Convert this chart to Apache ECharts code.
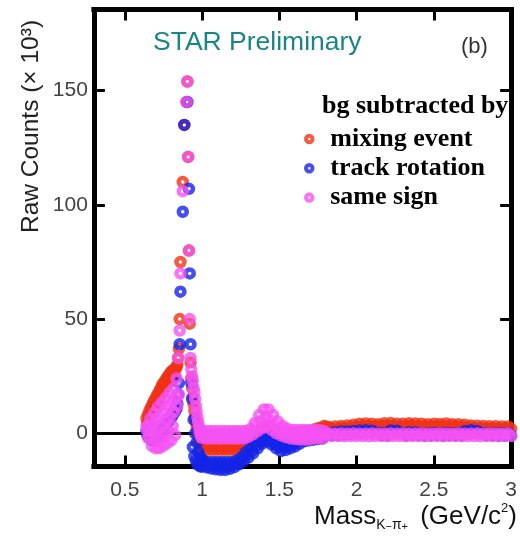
<!DOCTYPE html>
<html>
<head>
<meta charset="utf-8">
<script src="https://cdn.jsdelivr.net/npm/echarts@6/dist/echarts.min.js"></script>
<style>
  html, body { margin: 0; padding: 0; background: #fff; }
  #chart { width: 520px; height: 544px; }
</style>
</head>
<body>
<div id="chart"></div>
<script>
// K-pi invariant mass bins (GeV/c^2)
const mass = [
  // rising side below the K* peak
  0.640, 0.645, 0.650, 0.655, 0.660, 0.665, 0.670, 0.675, 0.680, 0.685,
  0.690, 0.695, 0.700, 0.705, 0.710, 0.715, 0.720, 0.725, 0.730, 0.735,
  0.740, 0.745, 0.750, 0.755, 0.760, 0.765, 0.770, 0.775, 0.780, 0.785,
  0.790, 0.795, 0.800, 0.805, 0.810, 0.815, 0.820, 0.825, 0.830,
  // peak
  0.835, 0.840, 0.845, 0.850, 0.855, 0.860, 0.875, 0.885, 0.900, 0.905,
  0.910, 0.915, 0.920, 0.925, 0.930,
  // falling side
  0.935, 0.940, 0.945, 0.950, 0.955, 0.960, 0.965, 0.970, 0.975, 0.980,
  0.985, 0.990, 0.995, 1.000,
  // 1.01 - 1.80
  1.01, 1.02, 1.03, 1.04, 1.05, 1.06, 1.07, 1.08, 1.09, 1.10,
  1.11, 1.12, 1.13, 1.14, 1.15, 1.16, 1.17, 1.18, 1.19, 1.20,
  1.21, 1.22, 1.23, 1.24, 1.25, 1.26, 1.27, 1.28, 1.29, 1.30,
  1.31, 1.32, 1.33, 1.34, 1.35, 1.36, 1.37, 1.38, 1.39, 1.40,
  1.41, 1.42, 1.43, 1.44, 1.45, 1.46, 1.47, 1.48, 1.49, 1.50,
  1.51, 1.52, 1.53, 1.54, 1.55, 1.56, 1.57, 1.58, 1.59, 1.60,
  1.61, 1.62, 1.63, 1.64, 1.65, 1.66, 1.67, 1.68, 1.69, 1.70,
  1.71, 1.72, 1.73, 1.74, 1.75, 1.76, 1.77, 1.78, 1.79, 1.80,
  // 1.82 - 3.00
  1.82, 1.84, 1.86, 1.88, 1.90, 1.92, 1.94, 1.96, 1.98, 2.00,
  2.02, 2.04, 2.06, 2.08, 2.10, 2.12, 2.14, 2.16, 2.18, 2.20,
  2.22, 2.24, 2.26, 2.28, 2.30, 2.32, 2.34, 2.36, 2.38, 2.40,
  2.42, 2.44, 2.46, 2.48, 2.50, 2.52, 2.54, 2.56, 2.58, 2.60,
  2.62, 2.64, 2.66, 2.68, 2.70, 2.72, 2.74, 2.76, 2.78, 2.80,
  2.82, 2.84, 2.86, 2.88, 2.90, 2.92, 2.94, 2.96, 2.98, 3.00
];

// Raw counts (x 10^3) after background subtraction, one entry per mass bin (null = no point)
const mixingEvent = [
  6.5, 4.4, 8.3, 6.1, 10, 7.8, 11.5, 9.3, 13, 10.6,
  14.3, 11.9, 15.5, 13.1, 16.8, 14.4, 18, 15.8, 19.5, 17.3,
  21, 18.5, 22, 19.5, 23, 20.5, 24, 21.5, 25, 22.5,
  26, 23.5, 27, 24.3, 27.5, 24.8, 28, 25.3, 28.5,
  29, 30, 33, 37, 50, 75, 110, 135, 145, 154,
  121, 80, 48, 31, 24,
  20, 16, 13, 10, 7, 5, 3, 1, -0.5, -2,
  -3, -4, -5, -6,
  -4, -5.6, -7.2, -4, -5.6, -7.2, -4, -5.6, -7.2, -4,
  -5.6, -7.2, -4, -5.6, -7.2, -4, -5.6, -7.2, -4, -5.6,
  -7.2, -4, -5.6, -7.2, -4, -5.3, -6.2, -3.5, -4.4, -5,
  -2.5, -3, -3.5, -1, -1.3, -1.5, 1.2, 1, 0.5, 3,
  2.3, 1.5, 3.3, 2, 0.5, 2, 0.5, -1, 0.8, -0.5,
  -2, 0, -1, -2, 0, -1, -2, 0, -1, -2,
  0.2, -0.6, -1.5, 0.5, -0.5, -1, 0.8, 0, -1, 1,
  0.4, 0, 1.8, 1.3, 0.9, 2.5, 2.2, 1.8, 3.2, 2.9,
  2.8, 1.9, 3.0, 2.1, 3.2, 2.3, 3.4, 2.6, 3.8, 2.9,
  4.2, 3.1, 4.3, 3.2, 4.2, 3.1, 4.0, 3.2, 4.4, 3.3,
  4.5, 3.3, 4.2, 3.1, 4.2, 3.3, 4.4, 3.3, 4.3, 3.1,
  4.2, 3.1, 4.0, 3.1, 4.2, 3.2, 4.1, 3.2, 4.3, 3.1,
  4.0, 3.1, 4.0, 2.9, 3.8, 2.6, 3.4, 2.3, 3.3, 2.2,
  3.2, 2.2, 3.1, 2.1, 3.1, 2.0, 3.0, 2.1, 3.0, 2.0
];

const trackRotation = [
  1, -0.5, 0, -1.5, -1, -2.3, -1.5, -2.8, -2, -3,
  -2, -3, -2, -2.5, -1, -1.5, 0, -0.5, 1, 0.5,
  2, 1.5, 3, 2.5, 4, 3.5, 5, 4.5, 6, 5.5,
  7, 6.5, 8, 7.5, 9, 8.5, 10, 9.5, 11,
  11, 13, 17, 22, 39, 62, 97, 135, null, 145,
  null, 107, 70, 39, 22,
  15, -6, 6, -10, 0, -12, -4, -13.5, -8, -14,
  -10, -14.5, -11, -14.5,
  -12, -13.6, -14.9, -12.5, -13.9, -15.4, -12.5, -14.1, -15.7, -12.5,
  -14.3, -16, -12.5, -14.3, -16, -12.5, -14.2, -15.5, -12.5, -13.8,
  -14.7, -12, -12.9, -13.5, -10.8, -11.3, -12, -8.5, -9.4, -10.6,
  -6.5, -7.7, -8.7, -4.5, -5.5, -6.5, -2.5, -3.5, -4.5, -1.3,
  -2.5, -3.6, -1.2, -2.9, -4.9, -2.5, -4.5, -6.5, -3.8, -5.8,
  -7.7, -4, -5.8, -7.3, -3.8, -5.2, -6.6, -3, -4.5, -5.8,
  -2.3, -3.5, -4.6, -1.5, -2.6, -3.5, -0.8, -1.9, -3.1, 0,
  -1.3, -2.8, 0.3, -1.2, -2.5, 0.3, -1, -2.2, 0.3, -0.9,
  0.2, -0.8, 0.5, -0.6, 0.8, -0.4, 0.8, -0.3, 1.0, 0,
  1.3, 0.3, 1.4, 0.3, 1.2, 0.1, 0.3, -0.7, 0.2, -0.8,
  1.3, 0.2, 1.2, 0.2, 0.2, -0.8, 0.5, -0.5, 0.4, -0.6,
  0.1, -0.9, 0.1, -0.9, 0.2, -0.8, 0.1, -0.9, 0.2, -0.8,
  0.1, -0.9, 0.2, -0.8, 0.9, -0.1, 1.4, 0.4, 1.0, 0,
  0.2, -0.8, 0.1, -0.9, 0.0, -1.0, 0.0, -1.0, 0.0, -1.0
];

const sameSign = [
  3, 1.4, -2, 3.2, -1.5, 6.5, 1, -5.5, 4.5, -2.5,
  9, 1.5, -6.5, 6.3, -2.1, 11.5, 2.8, -6.4, 8, -1.3,
  13.5, 4, -5.5, 9.6, 0, 15.5, 5.8, -4.3, 11.8, 1.5,
  17.8, 7.4, -3, 13.5, 3.1, 19.6, 9.3, -0.8, 15.8,
  24, 12, 33, 17, 45, 70, 106, null, 145, 154,
  121, 80, 50, 33, 28,
  25, 23, 20, 18, 15, 12, 9.5, 7, 5, 3,
  1, -1, 1, -2,
  1.0, -0.65, -2.3, 1.0, -0.65, -2.3, 1.0, -0.65, -2.3, 1.0,
  -0.65, -2.3, 1.0, -0.65, -2.3, 1.0, -0.65, -2.3, 1.0, -0.65,
  -2.3, 1.0, -0.65, -2.3, 1.0, -0.65, -2.3, 1.0, -0.35, -1.5,
  1.8, 0.85, -0.4, 4.5, 3.15, 1, 8, 5.5, 2.3, 10.5,
  6.8, 3, 10.5, 6, 1.5, 8, 3.75, 0, 5.2, 2,
  -0.9, 3.3, 0.75, -1.6, 2.1, -0.1, -2.2, 1.5, -0.45, -2.5,
  1.5, -0.6, -2.7, 1.5, -0.6, -2.7, 1.5, -0.6, -2.7, 1.5,
  -0.4, -2.3, 1.5, -0.4, -2.3, 1.5, -0.65, -2.3, 1.0, -0.65,
  -0.1, -1.2, -0.2, -1.2, -0.1, -1.3, -0.2, -1.2, -0.1, -1.2,
  -0.2, -1.2, -0.2, -1.3, -0.1, -1.2, -0.2, -1.2, -0.2, -1.3,
  -0.1, -1.2, -0.2, -1.2, -0.1, -1.3, -0.2, -1.2, -0.2, -1.2,
  -0.1, -1.3, -0.2, -1.2, -0.2, -1.2, -0.1, -1.3, -0.2, -1.2,
  -0.2, -1.2, -0.1, -1.3, -0.2, -1.2, -0.2, -1.2, -0.1, -1.3,
  -0.2, -1.2, -0.1, -1.2, -0.2, -1.3, -0.2, -1.2, -0.1, -1.2
];

const seriesNames = ['mixing event', 'track rotation', 'same sign'];
const xTicks = [0.5, 1, 1.5, 2, 2.5, 3];
const yTicks = [0, 50, 100, 150];

const SANS = 'Liberation Sans, Arial, Helvetica, sans-serif';
const SERIF = 'Liberation Serif, Times New Roman, serif';
const RED = '#f03214';
const BLUE = '#1424e6';
const PINK = '#f552f2';

function toPoints(values) {
  const pts = [];
  values.forEach((v, i) => { if (v !== null) pts.push([mass[i], v]); });
  return pts;
}

// open circles with a thick rim, drawn unclipped like the original plot
function ringSeries(name, values, color, extra) {
  return Object.assign({
    name: name,
    type: 'scatter',
    z: 3,
    data: toPoints(values),
    symbol: 'circle',
    symbolSize: 8,
    clip: false,
    silent: true,
    emphasis: { disabled: true },
    itemStyle: { color: 'rgba(0,0,0,0)', borderColor: color, borderWidth: 4.5 }
  }, extra || {});
}

const frameLine = { show: true, onZero: false, lineStyle: { color: '#000', width: 5, cap: 'square' } };
const inTicks = (vals) => ({ show: true, inside: true, length: 11, customValues: vals,
  lineStyle: { color: '#000', width: 3 } });

const chart = echarts.init(document.getElementById('chart'), null, { renderer: 'canvas' });

chart.setOption({
  animation: false,
  backgroundColor: '#fff',
  grid: { left: 93.9, right: 2.2, top: 9.5, bottom: 77.5, containLabel: false },
  xAxis: [
    {
      type: 'value', min: 0.3, max: 3.0, position: 'bottom',
      axisLine: frameLine, axisTick: inTicks(xTicks),
      axisLabel: { customValues: xTicks, fontSize: 21, fontFamily: SANS, color: '#444', margin: 13 },
      splitLine: { show: false }
    },
    {
      type: 'value', min: 0.3, max: 3.0, position: 'top',
      axisLine: frameLine, axisTick: inTicks(xTicks),
      axisLabel: { show: false }, splitLine: { show: false }
    }
  ],
  yAxis: [
    {
      type: 'value', min: -14.5, max: 185.5, position: 'left',
      axisLine: frameLine, axisTick: inTicks(yTicks),
      axisLabel: { customValues: yTicks, fontSize: 21, fontFamily: SANS, color: '#444', margin: 6 },
      splitLine: { show: false }
    },
    {
      type: 'value', min: -14.5, max: 185.5, position: 'right',
      axisLine: frameLine, axisTick: inTicks(yTicks),
      axisLabel: { show: false }, splitLine: { show: false }
    }
  ],
  legend: {
    data: seriesNames,
    orient: 'vertical',
    left: 304,
    top: 126,
    padding: 0,
    itemWidth: 32,
    itemHeight: 6.5,
    itemGap: 3.3,
    icon: 'circle',
    selectedMode: false,
    itemStyle: { borderWidth: 4 },
    textStyle: { fontFamily: SERIF, fontWeight: 'bold', fontSize: 26, lineHeight: 25, color: '#000' }
  },
  graphic: [
    {
      type: 'text', x: 153, y: 42.5, silent: true,
      style: { text: 'STAR Preliminary', fontSize: 26.5, fontFamily: SANS, fill: '#1a8585', verticalAlign: 'middle' }
    },
    {
      type: 'text', x: 461, y: 47, silent: true,
      style: { text: '(b)', fontSize: 22, fontFamily: SANS, fill: '#333', verticalAlign: 'middle' }
    },
    {
      type: 'text', x: 322, y: 106, silent: true,
      style: { text: 'bg subtracted by', fontSize: 26, fontWeight: 'bold', fontFamily: SERIF, fill: '#000', verticalAlign: 'middle' }
    },
    {
      type: 'text', x: 31, y: 126.5, rotation: Math.PI / 2, silent: true,
      style: { text: 'Raw Counts (\u00d7 10\u00b3)', fontSize: 24.5, fontFamily: SANS, fill: '#222', align: 'center', verticalAlign: 'middle' }
    },
    {
      type: 'text', x: 517, y: 517.3, silent: true,
      style: {
        text: '{a|Mass}{b|K}{c|\u2212}{b|\u03c0}{c|+}{e| (GeV/c}{d|2}{a|)}',
        align: 'right', verticalAlign: 'middle',
        fontFamily: SANS, fill: '#111',
        rich: {
          a: { fontSize: 26, fontFamily: SANS, fill: '#111', lineHeight: 30, verticalAlign: 'middle' },
          e: { fontSize: 26, fontFamily: SANS, fill: '#111', lineHeight: 30, verticalAlign: 'middle', padding: [0, 0, 0, 5] },
          b: { fontSize: 14, fontFamily: SANS, fill: '#111', lineHeight: 8, verticalAlign: 'bottom' },
          c: { fontSize: 11, fontFamily: SANS, fill: '#111', lineHeight: 16, verticalAlign: 'bottom' },
          d: { fontSize: 13, fontFamily: SANS, fill: '#111', lineHeight: 25, verticalAlign: 'top' }
        }
      }
    }
  ],
  series: [
    ringSeries(seriesNames[0], mixingEvent, RED, {
      // zero reference line, kept underneath the data points
      markLine: {
        z: 1,
        silent: true, symbol: ['none', 'none'], animation: false,
        label: { show: false },
        lineStyle: { color: '#000', width: 3, type: 'solid' },
        emphasis: { disabled: true },
        data: [{ yAxis: 0 }]
      }
    }),
    ringSeries(seriesNames[1], trackRotation, BLUE),
    ringSeries(seriesNames[2], sameSign, PINK)
  ]
});
</script>
</body>
</html>
